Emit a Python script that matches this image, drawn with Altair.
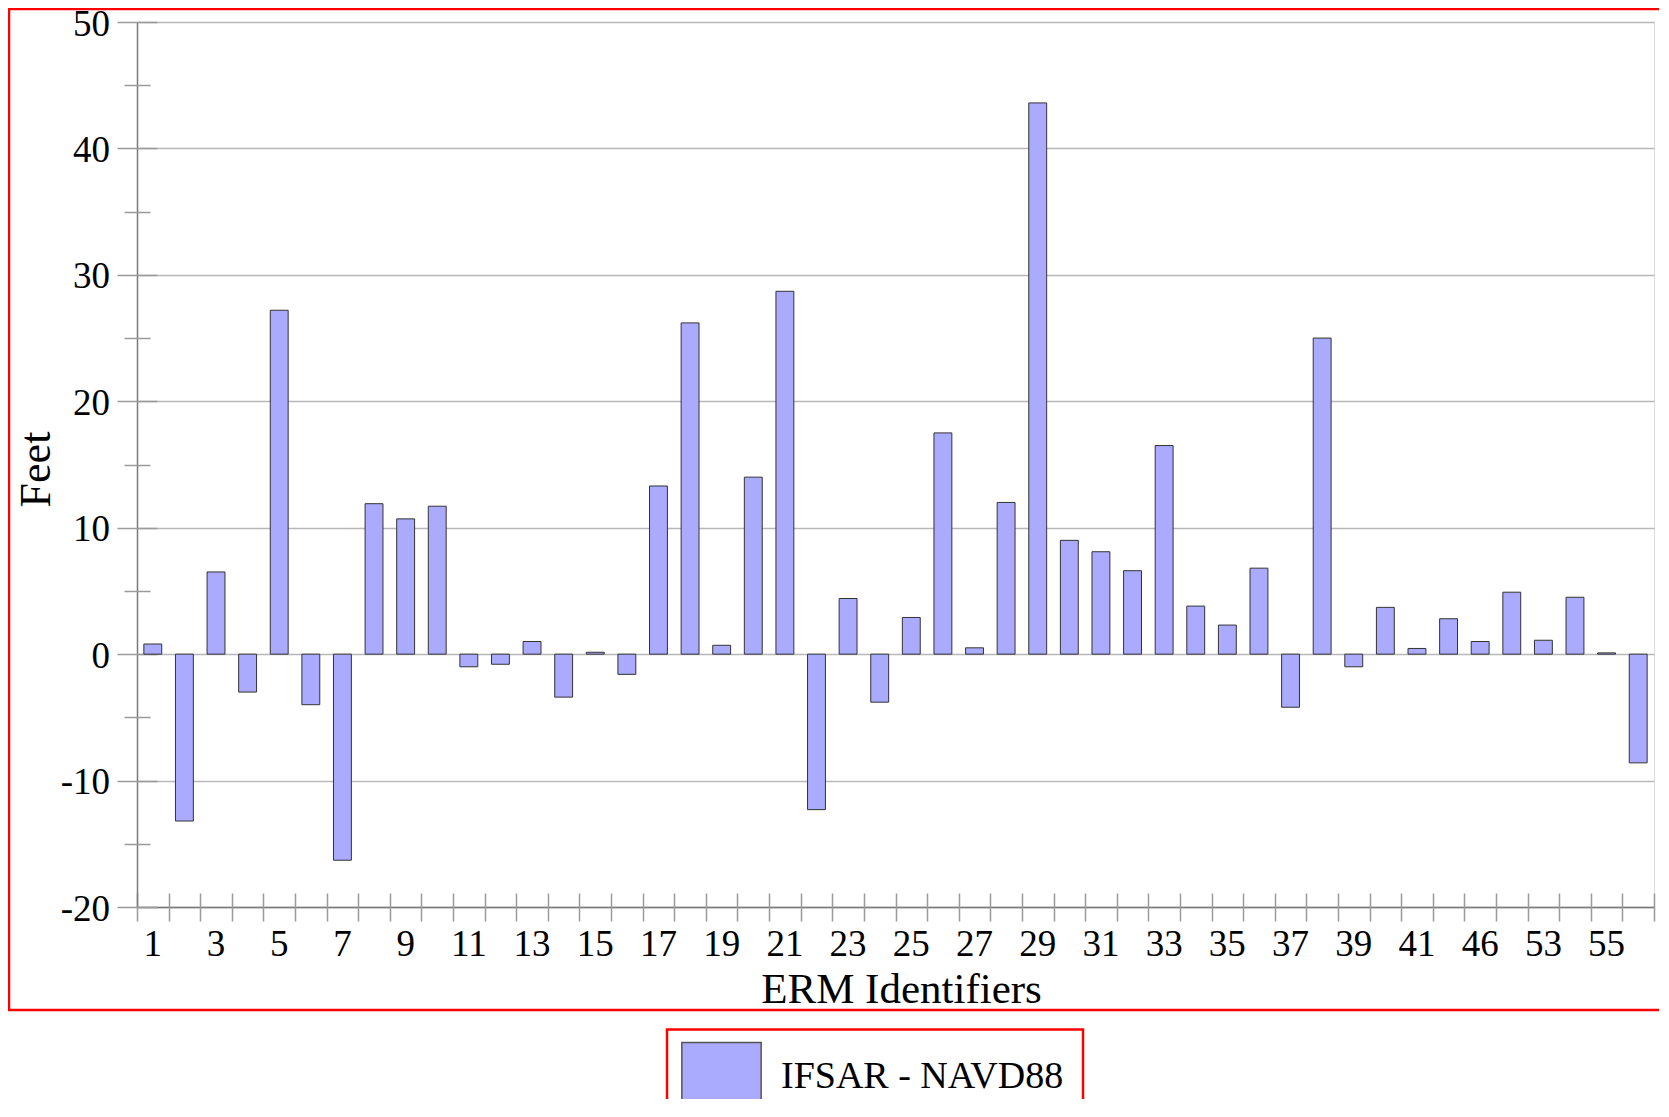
import json
import altair as alt
import pandas as pd

# ---- data ----
ids = [str(i) for i in range(1, 42)] + ["42", "46", "47", "53", "54", "55", "56"]
values = [0.8, -13.2, 6.5, -3.0, 27.2, -4.0, -16.3, 11.9, 10.7, 11.7,
          -1.0, -0.8, 1.0, -3.4, 0.15, -1.6, 13.3, 26.2, 0.7, 14.0,
          28.7, -12.3, 4.4, -3.8, 2.9, 17.5, 0.5, 12.0, 43.6, 9.0,
          8.1, 6.6, 16.5, 3.8, 2.3, 6.8, -4.2, 25.0, -1.0, 3.7,
          0.45, 2.8, 1.0, 4.9, 1.1, 4.5, 0.1, -8.6]
shown_labels = [str(i) for i in range(1, 42, 2)] + ["46", "53", "55"]
series_name = "IFSAR - NAVD88"
y_major = list(range(-20, 51, 10))
y_minor = list(range(-15, 50, 10))

df = pd.DataFrame({"id": ids, "value": values, "series": series_name})
frame_df = pd.DataFrame({"k": [0]})

FONT = "Liberation Serif"
label_expr = "indexof(" + json.dumps(shown_labels) + ", datum.value) >= 0 ? datum.label : ''"

x_scale = alt.Scale(paddingInner=0, paddingOuter=0)
y_scale = alt.Scale(domain=[-20, 50], nice=False, zero=False)

bars = alt.Chart(df).mark_bar(
    width=alt.RelativeBandSize(0.566), stroke="#333333", strokeWidth=1
).encode(
    x=alt.X("id:N", sort=ids, scale=x_scale,
            axis=alt.Axis(orient="bottom", ticks=False, grid=False,
                          domainColor="#7a7a7a", domainWidth=1.5,
                          labelExpr=label_expr, labelAngle=0, labelOverlap=False,
                          labelFont=FONT, labelFontSize=37, labelColor="black",
                          labelBaseline="alphabetic", labelPadding=48,
                          title="ERM Identifiers", titleFont=FONT, titleFontSize=43,
                          titleFontWeight="normal", titleColor="black",
                          titleX=764, titleY=95, titleAlign="center",
                          titleBaseline="alphabetic")),
    y=alt.Y("value:Q", scale=y_scale,
            axis=alt.Axis(orient="left", values=y_major, ticks=False, grid=True,
                          gridColor="#b8b8b8", gridWidth=1.5,
                          domainColor="#7a7a7a", domainWidth=1.5,
                          labelExpr="'' + datum.value",
                          labelFont=FONT, labelFontSize=37, labelColor="black",
                          labelBaseline="middle", labelPadding=27.5, labelOffset=2,
                          title="Feet", titleFont=FONT, titleFontSize=44,
                          titleFontWeight="normal", titleColor="black",
                          titleX=-88, titleY=447, titleAlign="center",
                          titleBaseline="alphabetic", titleAngle=270)),
    fill=alt.Fill("series:N", scale=alt.Scale(range=["#aaaaff"]),
                  legend=alt.Legend(orient="none", legendX=544, legendY=1014,
                                    title=None, padding=0, labelLimit=0,
                                    symbolType="M-1,-0.855H1V0.855H-1Z",
                                    symbolSize=6288, symbolStrokeColor="#555555",
                                    symbolStrokeWidth=1.5,
                                    labelFont=FONT, labelFontSize=38,
                                    labelColor="black", labelOffset=19)),
)

# tick marks that cross the axes (major)
ticks_major = alt.Chart(df).mark_point(opacity=0, size=0).encode(
    x=alt.X("id:N", sort=ids,
            axis=alt.Axis(orient="bottom", offset=-14, tickSize=28, tickBand="extent",
                          tickColor="#9a9a9a", tickWidth=1.5, labels=False,
                          domain=False, grid=False, title=None)),
    y=alt.Y("value:Q",
            axis=alt.Axis(orient="left", values=y_major, offset=-20, tickSize=40,
                          tickColor="#9a9a9a", tickWidth=1.5, labels=False,
                          domain=False, grid=False, title=None)),
)

# minor y ticks
ticks_minor = alt.Chart(df).mark_point(opacity=0, size=0).encode(
    y=alt.Y("value:Q",
            axis=alt.Axis(orient="left", values=y_minor, offset=-13, tickSize=26,
                          tickColor="#9a9a9a", tickWidth=1.5, labels=False,
                          domain=False, grid=False, title=None)),
)

# red page frames
outer_frame = alt.Chart(frame_df).mark_rect(
    fill="transparent", stroke="#ff0000", strokeWidth=2.5
).encode(x=alt.value(-128), x2=alt.value(1560), y=alt.value(-13), y2=alt.value(988))

legend_frame = alt.Chart(frame_df).mark_rect(
    fill="transparent", stroke="#ff0000", strokeWidth=2.5
).encode(x=alt.value(530), x2=alt.value(946), y=alt.value(1007.5), y2=alt.value(1140))

chart = alt.layer(bars, ticks_major, ticks_minor, outer_frame, legend_frame).resolve_axis(
    x="independent", y="independent"
).properties(
    width=1517, height=885,
    padding={"left": 129, "top": 14, "right": 5, "bottom": 192},
    autosize=alt.AutoSizeParams(type="none"),
    background="white",
).configure_view(
    stroke="#222222", strokeWidth=1.5
).configure(font=FONT)

chart.save("out.html", embed_options={"renderer": "svg", "actions": False})
